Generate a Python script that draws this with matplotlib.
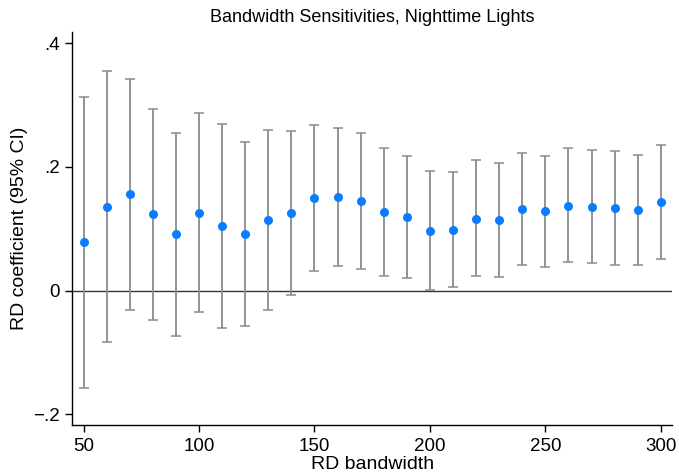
import numpy as np
import matplotlib as mpl
import matplotlib.pyplot as plt

mpl.rcParams['font.family'] = ['Liberation Sans', 'DejaVu Sans']

# RD estimates by bandwidth, nighttime lights
bandwidth = [50, 60, 70, 80, 90, 100, 110, 120, 130, 140, 150, 160, 170,
             180, 190, 200, 210, 220, 230, 240, 250, 260, 270, 280, 290, 300]
coef = [0.078, 0.135, 0.156, 0.123, 0.091, 0.126, 0.104, 0.092, 0.114, 0.125,
        0.149, 0.151, 0.144, 0.127, 0.119, 0.097, 0.098, 0.116, 0.114, 0.132,
        0.128, 0.137, 0.135, 0.134, 0.131, 0.143]
ci_hi = [0.313, 0.355, 0.342, 0.293, 0.255, 0.287, 0.270, 0.240, 0.260, 0.258,
         0.267, 0.263, 0.254, 0.230, 0.217, 0.193, 0.191, 0.211, 0.206, 0.223,
         0.217, 0.230, 0.227, 0.226, 0.219, 0.235]
ci_lo = [-0.157, -0.084, -0.031, -0.048, -0.073, -0.035, -0.061, -0.058, -0.031, -0.008,
         0.031, 0.039, 0.034, 0.023, 0.021, 0.001, 0.005, 0.023, 0.022, 0.041,
         0.038, 0.046, 0.044, 0.041, 0.041, 0.051]

x = np.array(bandwidth)
b = np.array(coef)
err = [b - np.array(ci_lo), np.array(ci_hi) - b]

fig = plt.figure(figsize=(6.79, 4.72), dpi=100)
ax = fig.add_axes([0.1065, 0.099, 0.883, 0.833])

ax.axhline(0, color='#333333', lw=1.0, zorder=1)
ax.errorbar(x, b, yerr=err, fmt='none', ecolor='#8a8a8a', elinewidth=1.3,
            capsize=3.3, capthick=1.1, zorder=2)
ax.plot(x, b, 'o', color='#0a7cff', ms=6.5, mec='none', zorder=3)

ax.set_xlim(45.1, 304.8)
ax.set_ylim(-0.218, 0.418)
ax.set_xticks([50, 100, 150, 200, 250, 300])
ax.set_yticks([-0.2, 0, 0.2, 0.4])
ax.set_yticklabels(['\u2212.2', '0', '.2', '.4'])
ax.spines['top'].set_visible(False)
ax.spines['right'].set_visible(False)
for s in ['left', 'bottom']:
    ax.spines[s].set_linewidth(1.0)
    ax.spines[s].set_color('black')
ax.tick_params(labelsize=13.5, length=5, width=1.0, pad=4)

ax.set_xlabel('RD bandwidth', fontsize=14, labelpad=1)
ax.set_ylabel('RD coefficient (95% CI)', fontsize=14, labelpad=4)
ax.set_title('Bandwidth Sensitivities, Nighttime Lights', fontsize=13, pad=7)

fig.savefig('out.png', dpi=100)
